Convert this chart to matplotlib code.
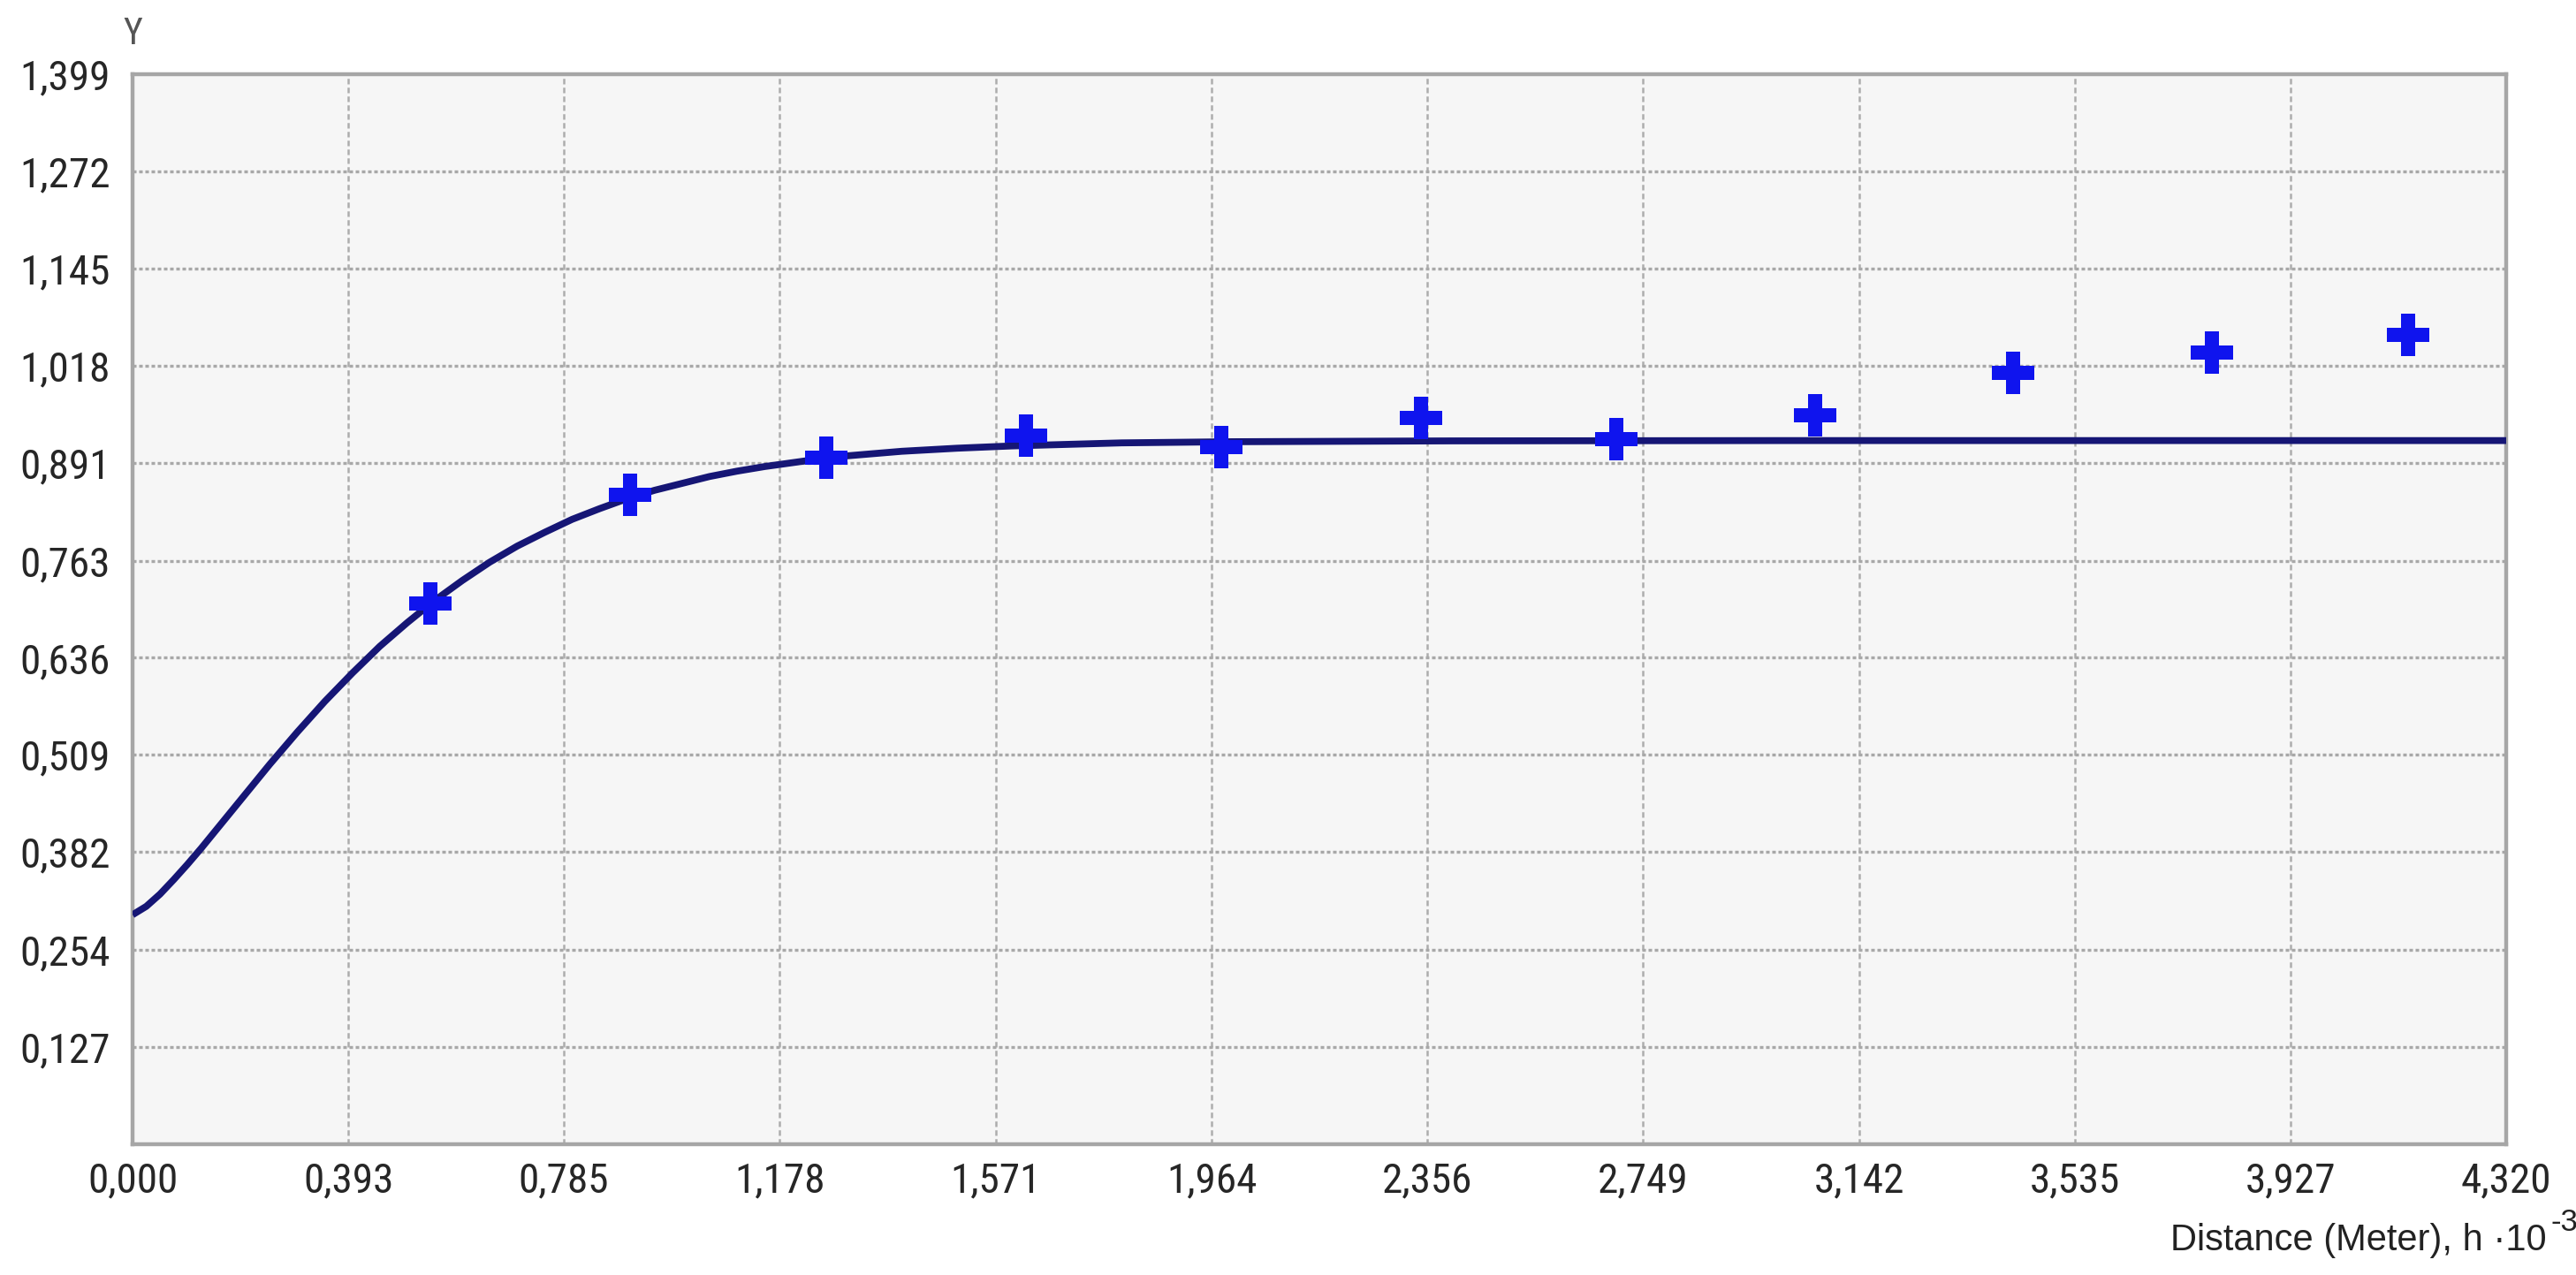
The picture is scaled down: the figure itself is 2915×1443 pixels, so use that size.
import matplotlib
matplotlib.use("Agg")
import matplotlib.pyplot as plt
from matplotlib import font_manager

# ---- data ----
x_ticks = [0.000, 0.393, 0.785, 1.178, 1.571, 1.964, 2.356, 2.749, 3.142, 3.535, 3.927, 4.320]
x_tick_labels = ["0,000", "0,393", "0,785", "1,178", "1,571", "1,964", "2,356", "2,749",
                 "3,142", "3,535", "3,927", "4,320"]
y_ticks = [0.127, 0.254, 0.382, 0.509, 0.636, 0.763, 0.891, 1.018, 1.145, 1.272, 1.399]
y_tick_labels = ["0,127", "0,254", "0,382", "0,509", "0,636", "0,763", "0,891", "1,018",
                 "1,145", "1,272", "1,399"]

# empirical points (crosses)
lag_x = [0.542, 0.905, 1.262, 1.626, 1.981, 2.345, 2.700, 3.063, 3.422, 3.785, 4.141]
lag_y = [0.707, 0.849, 0.898, 0.927, 0.911, 0.950, 0.922, 0.953, 1.009, 1.035, 1.058]

# model curve
curve_x = [0.000, 0.025, 0.050, 0.075, 0.100, 0.125, 0.150, 0.175, 0.200, 0.250, 0.300,
           0.350, 0.400, 0.450, 0.500, 0.550, 0.600, 0.650, 0.700, 0.750, 0.800, 0.850,
           0.900, 0.950, 1.000, 1.050, 1.100, 1.150, 1.200, 1.250, 1.300, 1.350, 1.400,
           1.450, 1.500, 1.600, 1.700, 1.800, 2.000, 2.400, 3.000, 4.320]
curve_y = [0.300, 0.311, 0.327, 0.346, 0.366, 0.387, 0.409, 0.431, 0.453, 0.497, 0.539,
           0.579, 0.616, 0.651, 0.682, 0.711, 0.737, 0.761, 0.782, 0.800, 0.817, 0.831,
           0.844, 0.855, 0.864, 0.873, 0.880, 0.886, 0.891, 0.896, 0.900, 0.903, 0.906,
           0.908, 0.910, 0.913, 0.915, 0.917, 0.9185, 0.9196, 0.920, 0.920]

names = {f.name for f in font_manager.fontManager.ttflist}
if "Liberation Sans Narrow" in names:
    tick_font, tick_size = "Liberation Sans Narrow", 17
elif "Roboto Condensed" in names:
    tick_font, tick_size = "Roboto Condensed", 17
elif "DejaVu Sans Condensed" in names:
    tick_font, tick_size = "DejaVu Sans Condensed", 15.5
else:
    tick_font, tick_size = "Liberation Sans", 16.5
label_font = ["Liberation Sans", "DejaVu Sans"]

fig = plt.figure(figsize=(14.575, 7.215), dpi=200)
fig.patch.set_facecolor("white")
ax = fig.add_axes([150 / 2915, 1 - 1295 / 1443, (2836 - 150) / 2915, (1295 - 84) / 1443])
ax.set_facecolor("#f6f6f6")

ax.set_xlim(0, 4.320)
ax.set_ylim(0, 1.399)

# grid
for xv in x_ticks[1:-1]:
    ax.axvline(xv, color="#adadad", lw=0.9, ls=(0, (2.5, 1.5)), zorder=1)
for yv in y_ticks[:-1]:
    ax.axhline(yv, color="#a8a8a8", lw=1.2, ls=(0, (1.2, 0.9)), zorder=1)

ax.plot(curve_x, curve_y, color="#161675", lw=2.8, solid_capstyle="butt",
        solid_joinstyle="round", zorder=3)
ax.plot(lag_x, lag_y, ls="none", marker="P", markersize=17, color="#0f14ee",
        markeredgewidth=0, zorder=4)

ax.set_xticks(x_ticks)
ax.set_xticklabels(x_tick_labels, family=[tick_font, "DejaVu Sans"], fontsize=tick_size,
                   color="#262626")
ax.set_yticks(y_ticks)
ax.set_yticklabels(y_tick_labels, family=[tick_font, "DejaVu Sans"], fontsize=tick_size,
                   color="#262626")
ax.tick_params(axis="both", length=0)
ax.tick_params(axis="x", pad=7)
ax.tick_params(axis="y", pad=9)

for s in ax.spines.values():
    s.set_color("#a6a6a6")
    s.set_linewidth(1.6)

# axis titles
fig.text(150 / 2915, 1 - 38 / 1443, "Y", family=[tick_font, "DejaVu Sans"], fontsize=15,
         color="#555555", ha="center", va="center")
fig.text(2882 / 2915, 1 - 1415 / 1443, "Distance (Meter), h \u00b710", family=label_font,
         fontsize=15, color="#222222", ha="right", va="baseline")
fig.text(2886 / 2915, 1 - 1393 / 1443, "-3", family=label_font,
         fontsize=12.5, color="#222222", ha="left", va="baseline")

fig.savefig("out.png", dpi=200, facecolor="white")
